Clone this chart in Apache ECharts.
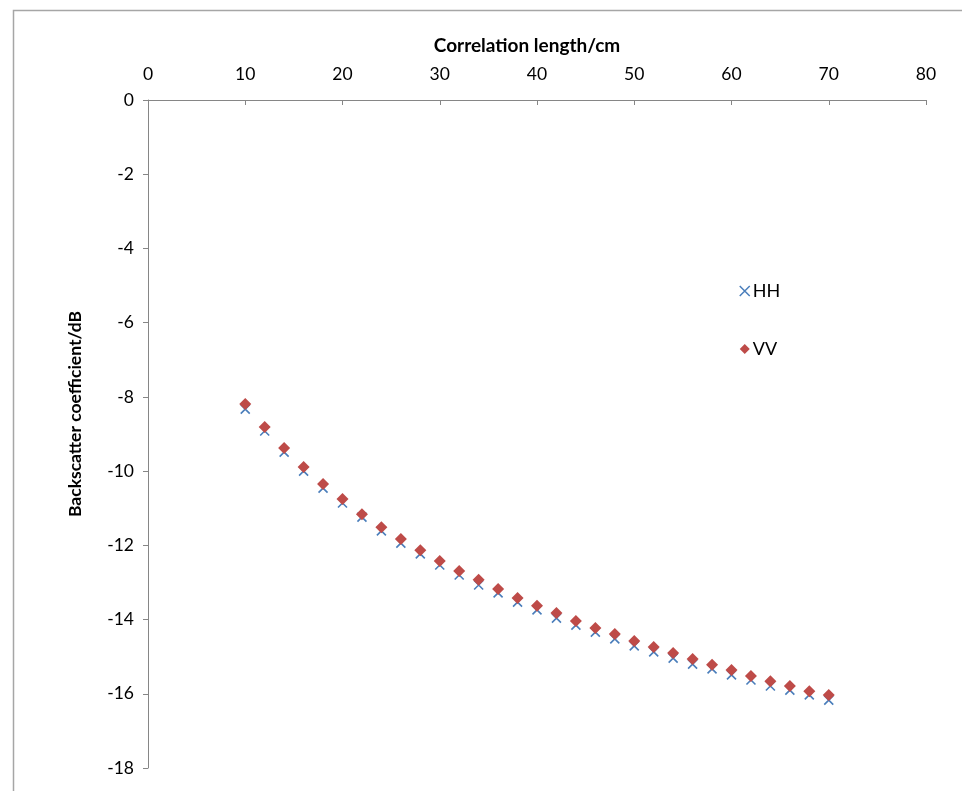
<!DOCTYPE html>
<html>
<head>
<meta charset="utf-8">
<script src="https://cdn.jsdelivr.net/npm/echarts@6/dist/echarts.min.js"></script>
<style>
  html, body { margin: 0; padding: 0; background: #fff; }
  #chart { width: 962px; height: 791px; }
</style>
</head>
<body>
<div id="chart"></div>
<script>
// Correlation length (cm)
const lengths = [10, 12, 14, 16, 18, 20, 22, 24, 26, 28, 30, 32, 34, 36, 38, 40,
                 42, 44, 46, 48, 50, 52, 54, 56, 58, 60, 62, 64, 66, 68, 70];
// Backscatter coefficient (dB), HH polarisation
const hhValues = [-8.33, -8.92, -9.49, -10.00, -10.46, -10.86, -11.24, -11.61, -11.94, -12.23,
                  -12.53, -12.80, -13.07, -13.28, -13.53, -13.74, -13.96, -14.15, -14.34, -14.52,
                  -14.71, -14.87, -15.04, -15.20, -15.33, -15.49, -15.63, -15.79, -15.90, -16.03, -16.17];
// Backscatter coefficient (dB), VV polarisation
const vvValues = [-8.19, -8.81, -9.38, -9.89, -10.35, -10.75, -11.16, -11.51, -11.83, -12.13,
                  -12.42, -12.69, -12.93, -13.18, -13.42, -13.63, -13.82, -14.04, -14.23, -14.39,
                  -14.58, -14.74, -14.90, -15.06, -15.22, -15.36, -15.52, -15.66, -15.79, -15.93, -16.03];

const seriesNames = ['HH', 'VV'];
const xTicks = { min: 0, max: 80, interval: 10 };
const yTicks = { min: -18, max: 0, interval: 2 };

const font = 'Lato, "Open Sans", sans-serif';
const axisGray = '#868686';
const hhColor = '#4a7ebb';
const vvColor = '#be4b48';
const crossPath = 'path://M0,0L10,10M10,0L0,10';

const chart = echarts.init(document.getElementById('chart'), null, { renderer: 'canvas' });

chart.setOption({
  backgroundColor: '#ffffff',
  animation: false,
  graphic: [{
    type: 'rect',
    shape: { x: 13.5, y: 10.5, width: 1000, height: 1000 },
    style: { fill: 'none', stroke: '#a6a6a6', lineWidth: 1.5 },
    silent: true,
    z: -1
  }],
  grid: { left: 148, top: 100, width: 778, height: 668 },
  legend: {
    data: [
      { name: seriesNames[0], icon: crossPath, itemStyle: { color: hhColor, borderColor: hhColor, borderWidth: 1.5, opacity: 1 } },
      { name: seriesNames[1], icon: 'diamond', itemStyle: { color: vvColor, opacity: 1 } }
    ],
    orient: 'vertical',
    left: 734,
    top: 277,
    itemGap: 40,
    itemWidth: 10,
    itemHeight: 10,
    textStyle: { fontFamily: font, fontSize: 18, color: '#000', padding: [0, 0, 0, -2] }
  },
  xAxis: {
    type: 'value',
    position: 'top',
    min: xTicks.min, max: xTicks.max, interval: xTicks.interval,
    name: 'Correlation length/cm',
    nameLocation: 'middle',
    nameGap: 45,
    nameTextStyle: { fontFamily: font, fontSize: 19, fontWeight: 'bold', color: '#000', padding: [0, 20, 0, 0] },
    axisLine: { lineStyle: { color: axisGray, width: 1 } },
    axisTick: { inside: true, length: 5, lineStyle: { color: axisGray } },
    axisLabel: { fontFamily: font, fontSize: 17.5, color: '#000', margin: 17 },
    splitLine: { show: false }
  },
  yAxis: {
    type: 'value',
    min: yTicks.min, max: yTicks.max, interval: yTicks.interval,
    name: 'Backscatter coefficient/dB',
    nameLocation: 'middle',
    nameGap: 64,
    nameTextStyle: { fontFamily: font, fontSize: 17.5, fontWeight: 'bold', color: '#000', padding: [0, 0, 0, 40] },
    axisLine: { show: true, onZero: false, lineStyle: { color: axisGray, width: 1 } },
    axisTick: { show: true, length: 5, lineStyle: { color: axisGray } },
    axisLabel: { fontFamily: font, fontSize: 17.5, color: '#000', margin: 14 },
    splitLine: { show: false }
  },
  series: [
    {
      name: seriesNames[0],
      type: 'scatter',
      symbol: crossPath,
      symbolSize: 9,
      itemStyle: { color: hhColor, borderColor: hhColor, borderWidth: 1.6, opacity: 1 },
      data: lengths.map((x, i) => [x, hhValues[i]]),
      z: 2
    },
    {
      name: seriesNames[1],
      type: 'scatter',
      symbol: 'diamond',
      symbolSize: 12,
      itemStyle: { color: vvColor, opacity: 1 },
      data: lengths.map((x, i) => [x, vvValues[i]]),
      z: 3
    }
  ]
});
</script>
</body>
</html>
